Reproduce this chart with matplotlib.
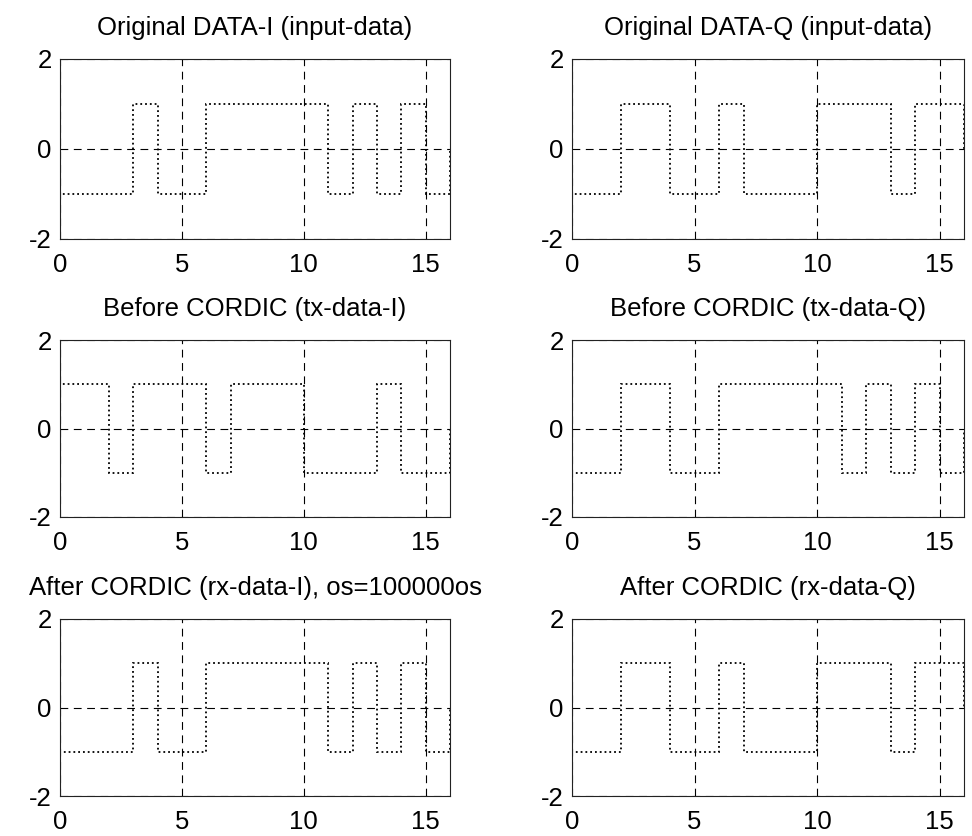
import numpy as np
import matplotlib as mpl
mpl.use('Agg')
import matplotlib.pyplot as plt

# symbol values (one per unit interval, 0..16)
data_i = [-1, -1, -1, 1, -1, -1, 1, 1, 1, 1, 1, -1, 1, -1, 1, -1]
data_q = [-1, -1, 1, 1, -1, -1, 1, -1, -1, -1, 1, 1, 1, -1, 1, 1]
tx_i = [1, 1, -1, 1, 1, 1, -1, 1, 1, 1, -1, -1, -1, 1, -1, -1]
tx_q = [-1, -1, 1, 1, -1, -1, 1, 1, 1, 1, 1, -1, 1, -1, 1, -1]
rx_i = [-1, -1, -1, 1, -1, -1, 1, 1, 1, 1, 1, -1, 1, -1, 1, -1]
rx_q = [-1, -1, 1, 1, -1, -1, 1, -1, -1, -1, 1, 1, 1, -1, 1, 1]

titles = ["Original DATA-I (input-data)", "Original DATA-Q (input-data)",
          "Before CORDIC (tx-data-I)", "Before CORDIC (tx-data-Q)",
          "After CORDIC (rx-data-I), os=100000os", "After CORDIC (rx-data-Q)"]
series = [data_i, data_q, tx_i, tx_q, rx_i, rx_q]

xticks = [0, 5, 10, 15]
yticks = [-2, 0, 2]

plt.rcParams['font.family'] = ['Liberation Sans', 'DejaVu Sans']
plt.rcParams['axes.unicode_minus'] = False

fig = plt.figure(figsize=(9.72, 8.36), dpi=100)

W, H = 972.0, 836.0
cols = [(60, 390), (572, 392)]
rows = [(59, 180), (340, 177), (619, 177)]

for k, (title, vals) in enumerate(zip(titles, series)):
    r, c = divmod(k, 2)
    left, width = cols[c]
    top, height = rows[r]
    ax = fig.add_axes([left / W, 1 - (top + height) / H, width / W, height / H])

    edges = np.arange(len(vals) + 1)
    ax.stairs(vals, edges, color='black', linestyle=':', linewidth=1.3)

    ax.set_xlim(0, 16)
    ax.set_ylim(-2, 2)
    ax.set_xticks(xticks)
    ax.set_yticks(yticks)
    ax.tick_params(length=0, labelsize=18.5)
    ax.tick_params(axis='x', pad=10)
    ax.tick_params(axis='y', pad=6)
    ax.grid(True, color='black', linestyle=(0, (7, 5)), linewidth=0.8)
    for sp in ax.spines.values():
        sp.set_linewidth(0.8)
        sp.set_color('#222222')
    ax.set_title(title, fontsize=18.5, pad=17)

fig.savefig('out.png', dpi=100, facecolor='white')
